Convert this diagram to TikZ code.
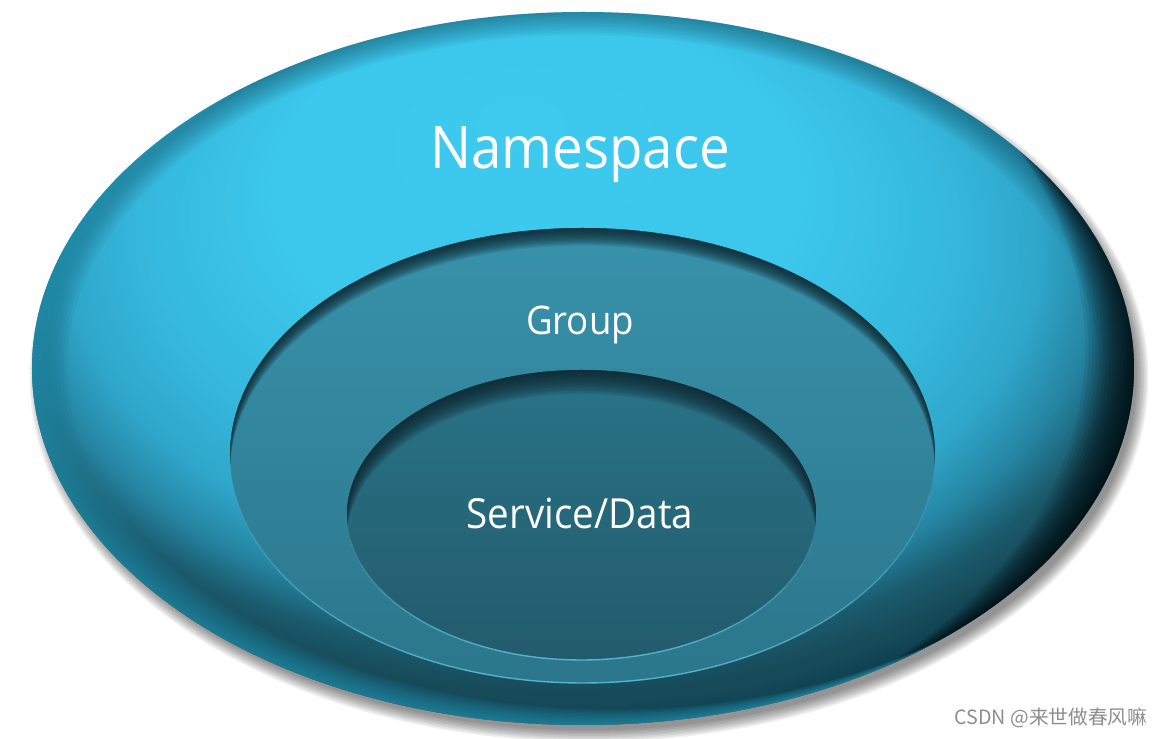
\documentclass[tikz,border=0pt]{standalone}
\usepackage{fontspec}
\setmainfont{Open Sans}[FakeStretch=0.93]
\newfontfamily\cjkfont{Noto Sans CJK SC}
\usepackage{tikz}

\definecolor{nslight}{HTML}{3DCAEE}
\definecolor{nslighttwo}{HTML}{3CC7EC}
\definecolor{nsmid}{HTML}{36B9DE}
\definecolor{nsside}{HTML}{2FA7CB}
\definecolor{nsedge}{HTML}{2585A2}
\definecolor{nsdeep}{HTML}{1A5A6C}
\definecolor{nsdark}{HTML}{174B5A}
\definecolor{nsend}{HTML}{164858}
\definecolor{nsrim}{HTML}{2A9FBE}
\definecolor{nsborder}{HTML}{0E3A48}
\definecolor{grptop}{HTML}{3892AB}
\definecolor{grpbot}{HTML}{2B768B}
\definecolor{svctop}{HTML}{2A7387}
\definecolor{svcbot}{HTML}{225B6C}
\definecolor{innershadow}{HTML}{0E262E}
\definecolor{rimblue}{HTML}{5CC3DD}
\definecolor{markgray}{HTML}{8E8E8E}

\pgfdeclareradialshading{nsglobe}{\pgfpoint{-3bp}{18bp}}{%
  color(0bp)=(nslight); color(12bp)=(nslighttwo); color(18bp)=(nsmid);
  color(22bp)=(nsside); color(24.5bp)=(nsedge); color(26.5bp)=(nsdeep);
  color(28bp)=(nsdark); color(40bp)=(nsend)}

\begin{document}
\begin{tikzpicture}[x=0.01cm, y=0.01cm,
    label/.style={text=white, inner sep=0pt},
    rim/.style={draw=rimblue, line width=0.4pt}]
  \useasboundingbox (0,0) rectangle (1162,739);

  % draw shadow of the namespace ellipse
  \foreach \k in {1,...,9}
    \fill[black, opacity=0.06] (589,361.5) ellipse ({546+1.5*\k} and {351+1.5*\k});

  % draw namespace ellipse
  \shade[shading=nsglobe] (583,370.5) ellipse (551 and 356.5);
  \begin{scope}
    \clip (583,370.5) ellipse (551 and 356.5);
    % darker border all round
    \foreach \k in {1,...,10}
      \fill[nsborder, opacity=0.05, even odd rule] (583,370.5) ellipse (620 and 420)
        (583,370.5) ellipse ({551-3.5*\k} and {356.5-2.3*\k});
    % dark right side
    \foreach \k in {1,...,14}
      \fill[black, opacity=0.065, even odd rule] (583,370.5) ellipse (620 and 420)
        ({583-3.5*\k},{370.5+1.5*\k}) ellipse (551 and {356.5+4*\k});
    % light rim at the lower left
    \foreach \k in {1,...,12}
      \fill[nsrim, opacity=0.08, even odd rule] (583,370.5) ellipse (620 and 420)
        ({583+2.5*\k},{370.5+1.3*\k}) ellipse (551 and 356.5);
  \end{scope}

  % draw group ellipse
  \shade[top color=grptop, bottom color=grpbot] (582.5,283.5) ellipse (352.5 and 227.5);
  \begin{scope}
    \clip (582.5,283.5) ellipse (352.5 and 227.5);
    \foreach \k in {1,...,16}
      \fill[innershadow, opacity=0.1, even odd rule] (582.5,283.5) ellipse (380 and 260)
        (582.5,{283.5-1.1*\k}) ellipse (352.5 and 227.5);
  \end{scope}
  \foreach \a in {180,190,...,350}
    \draw[rim, opacity={0.85*sin(\a+5-180)}] (582.5,283.5) ++(\a:352.5 and 227.5)
      arc[start angle=\a, end angle=\a+10, x radius=352.5, y radius=227.5];

  % draw service/data ellipse
  \shade[top color=svctop, bottom color=svcbot] (581.5,224) ellipse (234.5 and 145);
  \begin{scope}
    \clip (581.5,224) ellipse (234.5 and 145);
    \foreach \k in {1,...,16}
      \fill[innershadow, opacity=0.1, even odd rule] (581.5,224) ellipse (260 and 170)
        (581.5,{224-1.5*\k}) ellipse (234.5 and 145);
  \end{scope}
  \foreach \a in {180,190,...,350}
    \draw[rim, opacity={0.85*sin(\a+5-180)}] (581.5,224) ++(\a:234.5 and 145)
      arc[start angle=\a, end angle=\a+10, x radius=234.5, y radius=145];

  % draw labels
  \node[label, font=\fontsize{16.7}{20}\selectfont] (ns) at (580,584) {Namespace};
  \node[label, font=\fontsize{11.2}{14}\selectfont] (grp) at (580,414) {Group};
  \node[label, font=\fontsize{11.8}{14}\selectfont] (svc) at (580,226) {Service/Data};
  \node[text=markgray, inner sep=0pt, anchor=east, font=\cjkfont\fontsize{5.6}{7}\selectfont] (mark) at (1148,21) {CSDN @来世做春风嘛};
\end{tikzpicture}
\end{document}
